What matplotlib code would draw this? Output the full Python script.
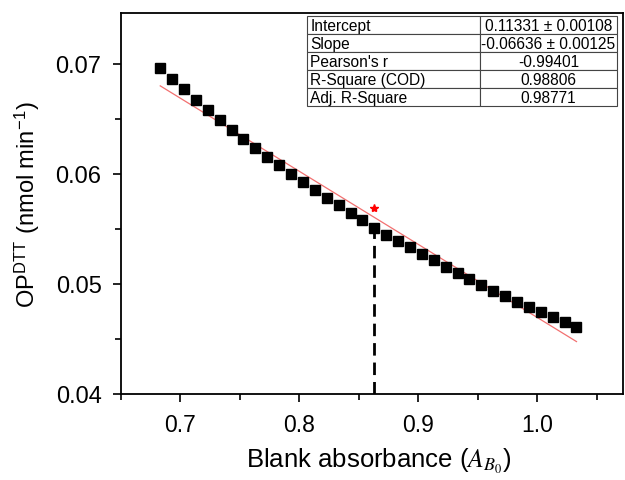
import matplotlib
matplotlib.use('Agg')
import matplotlib.pyplot as plt
from matplotlib.ticker import MultipleLocator

plt.rcParams['font.family'] = ['Liberation Sans', 'DejaVu Sans']
plt.rcParams['mathtext.fontset'] = 'stix'

# blank absorbance vs. OP(DTT)
absorbance = [0.683, 0.693, 0.703, 0.713, 0.723, 0.733, 0.743, 0.753, 0.763,
              0.773, 0.783, 0.793, 0.803, 0.813, 0.823, 0.833, 0.843, 0.853,
              0.863, 0.873, 0.883, 0.893, 0.903, 0.913, 0.923, 0.933, 0.943,
              0.953, 0.963, 0.973, 0.983, 0.993, 1.003, 1.013, 1.023, 1.033]
op_dtt = [0.06963, 0.06863, 0.06769, 0.06671, 0.06579, 0.06488, 0.06399,
          0.06314, 0.06235, 0.06156, 0.06079, 0.06000, 0.05924, 0.05850,
          0.05784, 0.05713, 0.05646, 0.05580, 0.05512, 0.05448, 0.05393,
          0.05333, 0.05269, 0.05214, 0.05155, 0.05098, 0.05045, 0.04994,
          0.04939, 0.04890, 0.04839, 0.04789, 0.04741, 0.04702, 0.04656,
          0.04610]

# linear fit results
intercept = 0.11331
slope = -0.06636
fit_rows = [["Intercept", "0.11331 ± 0.00108"],
            ["Slope", "-0.06636 ± 0.00125"],
            ["Pearson's r", "-0.99401"],
            ["R-Square (COD)", "0.98806"],
            ["Adj. R-Square", "0.98771"]]

# marked sample
mark_x = 0.863
mark_y = 0.05512
star_y = 0.0569

fig = plt.figure(figsize=(6.25, 4.81), dpi=100)
ax = fig.add_axes([0.1936, 0.1788, 0.803, 0.792])

x_fit = [absorbance[0], absorbance[-1]]
y_fit = [intercept + slope * v for v in x_fit]
ax.plot(x_fit, y_fit, color='#f27070', lw=0.9, zorder=2)

ax.plot([mark_x, mark_x], [0.04, mark_y], color='black', lw=2,
        dashes=(4.5, 2.5), zorder=1)
ax.plot(absorbance, op_dtt, 's', color='black', ms=6.5, zorder=3)
ax.plot([mark_x], [star_y], '*', color='red', ms=6, zorder=4)

ax.set_xlim(0.65, 1.072)
ax.set_ylim(0.04, 0.0746)
ax.xaxis.set_major_locator(MultipleLocator(0.1))
ax.xaxis.set_minor_locator(MultipleLocator(0.05))
ax.yaxis.set_major_locator(MultipleLocator(0.01))
ax.yaxis.set_minor_locator(MultipleLocator(0.005))
ax.xaxis.set_major_formatter(plt.FormatStrFormatter('%.1f'))
ax.yaxis.set_major_formatter(plt.FormatStrFormatter('%.2f'))
ax.tick_params(which='major', direction='out', length=6, width=1.2)
ax.tick_params(which='minor', direction='out', length=4, width=1.2)
ax.tick_params(axis='x', labelsize=16.5, pad=8)
ax.tick_params(axis='y', labelsize=17, pad=8)
for s in ax.spines.values():
    s.set_linewidth(1.3)

ax.set_xlabel(r'Blank absorbance ($A_{B_0}$)', fontsize=18.5, labelpad=7)
ax.xaxis.set_label_coords(0.514, -0.135)
ax.set_ylabel(r'OP$^{\mathregular{DTT}}$ (nmol min$^{\mathregular{-1}}$)',
              fontsize=17, labelpad=10)

tbl = ax.table(cellText=fit_rows, colWidths=[173, 137],
               bbox=[0.3705, 0.756, 0.6175, 0.236], zorder=5)
tbl.auto_set_font_size(False)
tbl.set_fontsize(11.2)
for (r, c), cell in tbl.get_celld().items():
    cell.set_edgecolor('#444444')
    cell.set_linewidth(0.8)
    if c == 0:
        cell.set_text_props(ha='left')
        cell.PAD = 0.02
    else:
        cell.set_text_props(ha='center')

fig.savefig('out.png', dpi=100)
